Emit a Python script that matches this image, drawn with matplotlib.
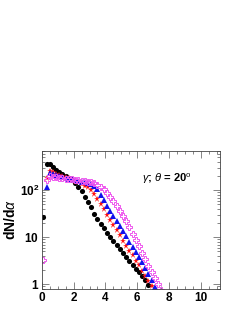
import numpy as np
import matplotlib
matplotlib.use("Agg")
import matplotlib.pyplot as plt
from matplotlib.ticker import LogLocator, FixedLocator, FixedFormatter, MultipleLocator, NullFormatter

# bin centres (alpha) and dN/dalpha
x_black = [0.1, 0.3, 0.5, 0.7, 0.9, 1.1, 1.3, 1.5, 1.7, 1.9, 2.1, 2.3, 2.5, 2.7, 2.9,
           3.1, 3.3, 3.5, 3.7, 3.9, 4.1, 4.3, 4.5, 4.7, 4.9, 5.1, 5.3, 5.5, 5.7, 5.9,
           6.1, 6.3, 6.5, 6.7]
y_black = [27, 355, 355, 316, 275, 240, 219, 200, 182, 166, 145, 117, 95, 72, 55,
           43, 32, 24.5, 19.5, 15.5, 12.3, 10.0, 8.3, 6.8, 5.6, 4.6, 3.8, 3.16, 2.57, 2.14,
           1.78, 1.48, 1.20, 0.95]

x_red = [0.3, 0.5, 0.7, 0.9, 1.1, 1.3, 1.5, 1.7, 1.9, 2.1, 2.3, 2.5, 2.7, 2.9,
         3.1, 3.3, 3.5, 3.7, 3.9, 4.1, 4.3, 4.5, 4.7, 4.9, 5.1, 5.3, 5.5, 5.7, 5.9,
         6.1, 6.3, 6.5, 6.7, 6.9]
y_red = [182, 251, 240, 224, 214, 204, 195, 182, 170, 158, 148, 135, 123, 115,
         100, 83, 66, 50, 39, 29.5, 23.4, 18.2, 14.1, 11.0, 8.5, 6.6, 5.2, 4.1, 3.16,
         2.51, 1.95, 1.51, 1.17, 0.91]

x_blue = [0.3, 0.5, 0.7, 0.9, 1.1, 1.3, 1.5, 1.7, 1.9, 2.1, 2.3, 2.5, 2.7, 2.9,
          3.1, 3.3, 3.5, 3.7, 3.9, 4.1, 4.3, 4.5, 4.7, 4.9, 5.1, 5.3, 5.5, 5.7, 5.9,
          6.1, 6.3, 6.5, 6.7, 6.9, 7.1]
y_blue = [115, 234, 224, 214, 204, 195, 186, 178, 170, 162, 155, 151, 148, 141,
          135, 123, 105, 81, 62, 47, 36, 28, 22, 17.4, 13.5, 10.5, 8.1, 6.3, 4.9,
          3.8, 2.9, 2.19, 1.66, 1.20, 0.87]

x_mag = [0.1, 0.3, 0.5, 0.7, 0.9, 1.1, 1.3, 1.5, 1.7, 1.9, 2.1, 2.3, 2.5, 2.7, 2.9,
         3.1, 3.3, 3.5, 3.7, 3.9, 4.1, 4.3, 4.5, 4.7, 4.9, 5.1, 5.3, 5.5, 5.7, 5.9,
         6.1, 6.3, 6.5, 6.7, 6.9, 7.1, 7.3, 7.5]
y_mag = [3.3, 166, 200, 195, 191, 186, 182, 178, 174, 170, 166, 162, 158, 155, 151,
         148, 141, 132, 120, 107, 89, 73, 59, 47, 37, 28.8, 21.9, 16.2, 12.0, 8.9,
         6.5, 4.7, 3.4, 2.5, 1.86, 1.38, 1.02, 0.76]

xticks = [0, 2, 4, 6, 8, 10]
yticks = [1, 10, 100]
ytick_labels = [r"$\mathbf{1}$", r"$\mathbf{10}$", r"$\mathbf{10^2}$"]

plt.rcParams["font.family"] = ["Liberation Sans", "DejaVu Sans"]
plt.rcParams["mathtext.fontset"] = "custom"
plt.rcParams["mathtext.rm"] = "Liberation Sans"
plt.rcParams["mathtext.bf"] = "Liberation Sans:bold"
plt.rcParams["mathtext.it"] = "Liberation Sans:italic"

fig = plt.figure(figsize=(2.47, 3.19), dpi=100)
ax = fig.add_axes([0.169, 0.094, 0.722, 0.434])

ms = 3.7
ax.plot(x_black, y_black, "o", color="black", ms=ms, mew=0)
ax.plot(x_red, y_red, "*", color="#ff1111", ms=ms + 1.3, mew=0)
ax.plot(x_blue, y_blue, "^", color="#1111ee", ms=ms, mew=0)
ax.plot(x_mag, y_mag, "P", color="#ee55ee", mfc="none", ms=ms + 0.8, mew=0.7)

ax.set_yscale("log")
ax.set_xlim(0, 11.2)
ax.set_ylim(0.79, 700)

ax.xaxis.set_major_locator(FixedLocator(xticks))
ax.xaxis.set_minor_locator(MultipleLocator(0.5))
ax.yaxis.set_major_locator(FixedLocator(yticks))
ax.yaxis.set_major_formatter(FixedFormatter(ytick_labels))
ax.yaxis.set_minor_locator(LogLocator(base=10, subs=np.arange(2, 10)))
ax.yaxis.set_minor_formatter(NullFormatter())

for lab in ax.get_xticklabels():
    lab.set_fontweight("bold")
ax.tick_params(which="both", direction="in", top=True, right=True,
               labelsize=8.5, width=0.5, color="#555555", pad=2)
ax.tick_params(which="major", length=5)
ax.tick_params(which="minor", length=2.5)
for s in ax.spines.values():
    s.set_linewidth(0.6)
    s.set_color("#444444")

ax.set_ylabel(r"dN/d$\alpha$", fontsize=10, fontweight="bold", labelpad=1)
ax.text(6.3, 150, r"$\gamma$; $\theta$ = 20$^{\rm o}$", fontsize=8, fontweight="bold")

fig.savefig("out.png", dpi=100)
